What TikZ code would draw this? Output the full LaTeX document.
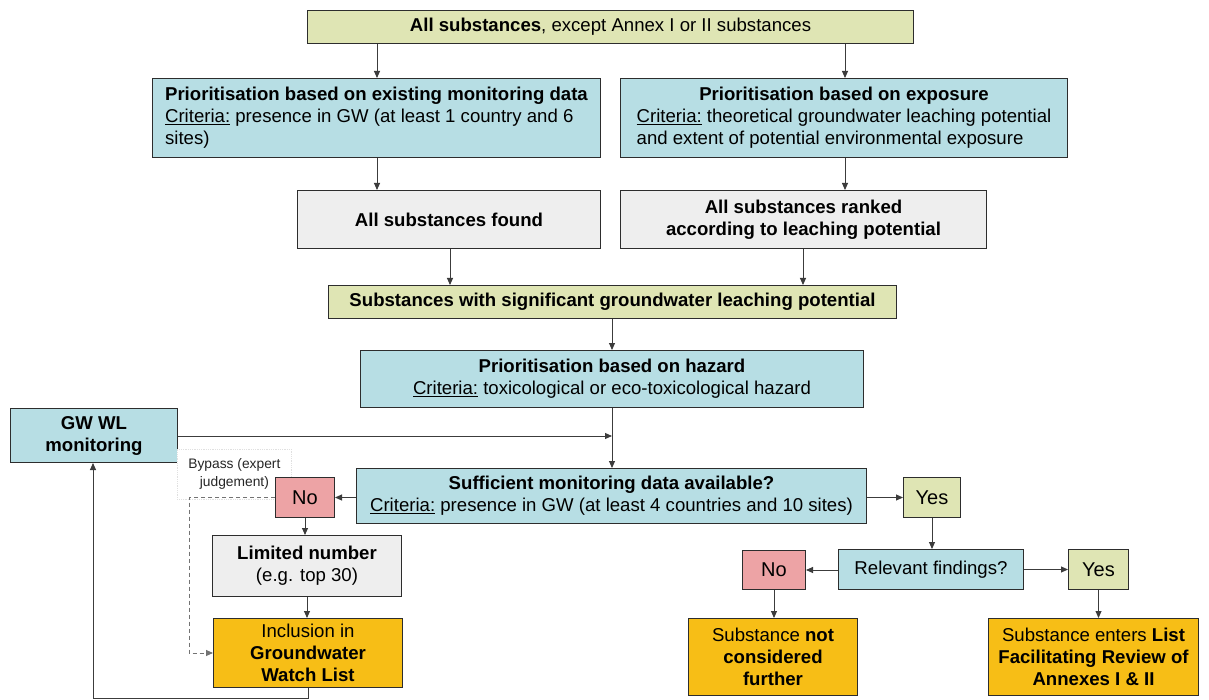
\documentclass[tikz,border=0pt]{standalone}
\usepackage{fontspec}
\setmainfont{Liberation Sans}
\usetikzlibrary{arrows.meta}
\definecolor{olive}{RGB}{223,229,180}
\definecolor{lblue}{RGB}{183,222,228}
\definecolor{lgrey}{RGB}{238,238,238}
\definecolor{pinkbox}{RGB}{237,163,165}
\definecolor{gold}{RGB}{247,190,22}
\definecolor{bordc}{RGB}{45,45,45}
\definecolor{linec}{RGB}{60,60,60}
\tikzset{
  pos/.style n args={4}{at={(#1,#2)}, anchor=north west,
    minimum width={#3-#1}, minimum height={#4-#2}},
  box/.style={draw=bordc, line width=1pt, inner sep=0pt, align=center,
    font=\fontsize{18.6}{22}\selectfont},
  olivebox/.style={box, fill=olive},
  bluebox/.style={box, fill=lblue},
  greybox/.style={box, fill=lgrey},
  pinkb/.style={box, fill=pinkbox, font=\fontsize{20}{22}\selectfont},
  goldbox/.style={box, fill=gold},
  bypassbox/.style={draw=black!12, densely dotted, line width=0.8pt, fill=white,
    inner sep=0pt, align=center, font=\fontsize{13.8}{18}\selectfont, text=black!85},
  arr/.style={draw=linec, line width=0.9pt, -{Triangle[length=7pt,width=6pt]}},
  plain/.style={draw=linec, line width=0.9pt},
  dasharr/.style={arr, dashed, dash pattern=on 4pt off 3pt, draw=black!55},
}
\begin{document}
\begin{tikzpicture}[x=1pt,y=-1pt]
\fill[white] (0,0) rectangle (1209,700);
\useasboundingbox (0,0) rectangle (1209,700);

\node[olivebox, pos={307}{10}{913}{43}] (top) {\textbf{All substances}, except Annex I or II substances};
\node[bluebox, pos={152}{78}{600}{157}, align=left] (p1)
  {\textbf{Prioritisation based on existing monitoring data}\\
   \underline{Criteria:} presence in GW (at least 1 country and 6\\
   sites)};
\node[bluebox, pos={620}{78}{1067}{157}] (p2)
  {\begin{tabular}{@{}l@{}}\multicolumn{1}{@{}c@{}}{\bfseries Prioritisation based on exposure}\\
   \underline{Criteria:} theoretical groundwater leaching potential\\
   and extent of potential environmental exposure\end{tabular}};
\node[greybox, pos={297}{190}{600}{248}] (found) {\textbf{All substances found}};
\node[greybox, pos={620}{190}{986}{248}] (ranked) {\textbf{All substances ranked}\\\textbf{according to leaching potential}};
\node[olivebox, pos={328}{285}{896}{318}] (sig) {\textbf{Substances with significant groundwater leaching potential}};
\node[bluebox, pos={360}{350}{863}{407}] (haz)
  {\begin{tabular}{@{}l@{}}\multicolumn{1}{@{}c@{}}{\bfseries Prioritisation based on hazard}\\
   \underline{Criteria:} toxicological or eco-toxicological hazard\end{tabular}};
\node[bluebox, pos={10}{408}{177}{462}] (gw) {\textbf{GW WL}\\\textbf{monitoring}};
\node[bluebox, pos={356}{468}{866}{523}] (suff)
  {\textbf{Sufficient monitoring data available?}\\
   \underline{Criteria:} presence in GW (at least 4 countries and 10 sites)};
\node[bypassbox, pos={177}{449}{291}{499}] (byp) {Bypass (expert\\ judgement)};
\node[pinkb, pos={275}{477}{334}{517}] (no1) {No};
\node[olivebox, pos={903}{477}{960}{517}, font=\fontsize{20}{22}\selectfont] (yes1) {Yes};
\node[greybox, pos={212}{535}{401}{596}] (lim) {\textbf{Limited number}\\(e.g. top 30)};
\node[goldbox, pos={213}{618}{402}{687}] (incl) {Inclusion in\\\textbf{Groundwater}\\\textbf{Watch List}};
\node[bluebox, pos={838}{549}{1023}{589}] (rel) {Relevant findings?};
\node[pinkb, pos={742}{550}{805}{589}] (no2) {No};
\node[olivebox, pos={1068}{549}{1128}{589}, font=\fontsize{20}{22}\selectfont] (yes2) {Yes};
\node[goldbox, pos={688}{618}{857}{695}] (notc) {Substance \textbf{not}\\\textbf{considered}\\\textbf{further}};
\node[goldbox, pos={988}{618}{1198}{695}] (ent) {Substance enters \textbf{List}\\\textbf{Facilitating Review of}\\\textbf{Annexes I \& II}};

% connectors
\draw[arr] (top.south -| 377,0) -- (377,0 |- p1.north);
\draw[arr] (top.south -| 845,0) -- (845,0 |- p2.north);
\draw[arr] (p1.south -| 377,0) -- (377,0 |- found.north);
\draw[arr] (p2.south -| 845,0) -- (845,0 |- ranked.north);
\draw[arr] (found.south -| 450,0) -- (450,0 |- sig.north);
\draw[arr] (ranked.south -| 803,0) -- (803,0 |- sig.north);
\draw[arr] (sig.south -| haz.north) -- (haz.north);
\draw[arr] (haz.south) -- (haz.south |- suff.north);
\draw[arr] (gw.east |- 0,436) -- (haz.south |- 0,436);
\draw[arr] (suff.west |- no1.east) -- (no1.east);
\draw[arr] (suff.east |- yes1.west) -- (yes1.west);
\draw[arr] (no1.south) -- (no1.south |- lim.north);
\draw[arr] (lim.south) -- (lim.south |- incl.north);
\draw[dasharr] (no1.west) -- (189,0 |- no1.west) -- (189,653) -- (incl.west |- 0,653);
\draw[arr] (incl.south) -- (incl.south |- 0,698) -- (93,698) -- (93,0 |- gw.south);
\draw[arr] (yes1.south) -- (yes1.south |- rel.north);
\draw[arr] (rel.west |- no2.east) -- (no2.east);
\draw[arr] (rel.east |- yes2.west) -- (yes2.west);
\draw[arr] (no2.south) -- (no2.south |- notc.north);
\draw[arr] (yes2.south) -- (yes2.south |- ent.north);
\end{tikzpicture}
\end{document}
